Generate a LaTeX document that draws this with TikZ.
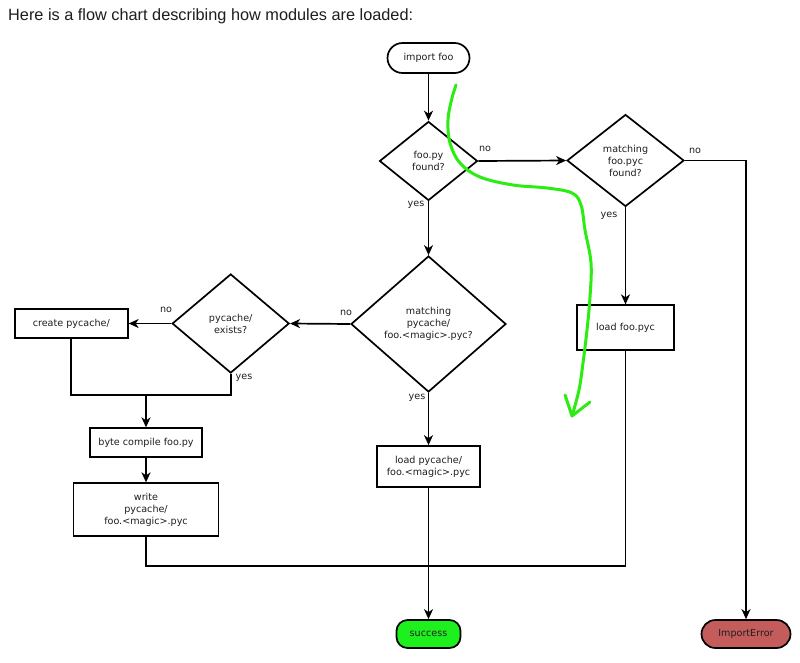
\documentclass[tikz,border=0pt]{standalone}
\usepackage{fontspec}
\setmainfont{DejaVu Sans}
\newfontfamily\titlefont{Liberation Sans}
\usetikzlibrary{shapes.geometric,arrows.meta}
\definecolor{inkc}{HTML}{1E1E1E}
\definecolor{okgreen}{HTML}{1EF01E}
\definecolor{errred}{HTML}{C55C5C}
\definecolor{penc}{HTML}{2CEC14}
\tikzset{
  base/.style={draw=black, line width=1.7pt, text=inkc, font=\fontsize{9.6}{12}\selectfont, align=center, inner sep=0pt},
  term/.style={base, rectangle, rounded corners=13pt},
  proc/.style={base, rectangle},
  dec/.style={base, diamond},
  lab/.style={text=inkc, font=\fontsize{9.6}{12}\selectfont, inner sep=0pt, anchor=base},
  flow/.style={line width=1.7pt, draw=black, -{Stealth[length=10pt,width=9pt,inset=3pt]}},
  plain/.style={line width=1.7pt, draw=black},
  pen/.style={draw=penc, line width=3pt, line cap=round, line join=round}
}
\begin{document}
\begin{tikzpicture}[x=1pt,y=-1pt]
\useasboundingbox (0,0) rectangle (800,662);
\fill[white] (0,0) rectangle (800,662);
\node[anchor=base west, inner sep=0pt, text=inkc, font=\titlefont\fontsize{16.3}{19}\selectfont] (title) at (8,20.7) {Here is a flow chart describing how modules are loaded:};

\node[term, minimum width=82pt, minimum height=30pt, rounded corners=15pt] (imp) at (428.5,58) {import foo};
\node[dec, minimum width=98pt, minimum height=79pt] (d1) at (428.5,161) {foo.py\\found?};
\node[dec, minimum width=117pt, minimum height=92pt] (d2) at (625.5,160.5) {matching\\foo.pyc\\found?};
\node[proc, minimum width=97pt, minimum height=45pt] (lfpyc) at (625.5,327.7) {load foo.pyc};
\node[dec, minimum width=155pt, minimum height=136pt] (d3) at (428.5,324) {matching\\pycache/\\foo.<magic>.pyc?};
\node[dec, minimum width=117pt, minimum height=99pt] (d4) at (230.7,323.5) {pycache/\\exists?};
\node[proc, minimum width=113pt, minimum height=29pt] (cpc) at (71.3,323.5) {create pycache/};
\node[proc, minimum width=112pt, minimum height=29pt] (bc) at (146,442.7) {byte compile foo.py};
\node[proc, minimum width=145pt, minimum height=53pt] (wr) at (146,509.7) {write\\pycache/\\foo.<magic>.pyc};
\node[proc, minimum width=103pt, minimum height=41pt] (lpc) at (428.5,466.5) {load pycache/\\foo.<magic>.pyc};
\node[term, fill=okgreen, minimum width=64pt, minimum height=28pt, rounded corners=11pt] (succ) at (428.5,634) {success};
\node[term, fill=errred, minimum width=89pt, minimum height=28pt, rounded corners=14pt] (ierr) at (746,634) {ImportError};

\node[lab] (no1) at (485,151.7) {no};
\node[lab] (yes1) at (416,206.5) {yes};
\node[lab] (no2) at (695,153.5) {no};
\node[lab] (yes2) at (609,217.5) {yes};
\node[lab] (no3) at (346,315.7) {no};
\node[lab] (no4) at (166,312.7) {no};
\node[lab] (yes4) at (244,379.5) {yes};
\node[lab] (yes3) at (417,399.5) {yes};

\coordinate (jn) at (146,395.3);
\coordinate (bot) at (428.5,566);

\draw[flow] (imp) -- (d1);
\draw[flow] (d1.east) -- (d2.west);
\draw[flow] (d2.east) -| (ierr.north);
\draw[flow] (d2.south) -- (lfpyc.north);
\draw[flow] (d1.south) -- (d3.north);
\draw[flow] (d3.west) -- (d4.east);
\draw[flow] (d4.west) -- (cpc.east);
\draw[plain] (d4.south) |- (jn);
\draw[plain] (cpc.south) |- (jn);
\draw[flow] (jn) -- (bc.north);
\draw[flow] (bc) -- (wr);
\draw[flow] (d3.south) -- (lpc.north);
\draw[flow] (lpc.south) -- (succ.north);
\draw[plain] (wr.south) |- (bot) -| (lfpyc.south);

\draw[pen] plot[smooth, tension=0.6] coordinates {(456,85) (451.5,100) (448,120) (450,143) (460,163) (480,177) (513,185) (547,188) (572,193) (581,205) (585,230) (591,263) (590,297) (587,330) (583,363) (579,390) (572,416)};
\draw[pen] (565,395) -- (572,416) -- (590,402);
\end{tikzpicture}
\end{document}
